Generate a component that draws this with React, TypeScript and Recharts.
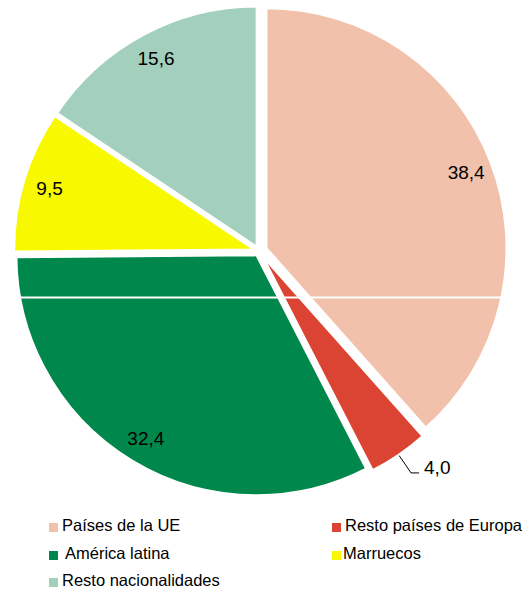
import React from "react";
import { PieChart, Pie, Cell, Sector, Legend } from "recharts";

const categories = [
  "Países de la UE",
  "Resto países de Europa",
  "América latina",
  "Marruecos",
  "Resto nacionalidades",
];
const values = [38.4, 4.0, 32.4, 9.5, 15.6];
const colors = ["#F2C1AB", "#DB4432", "#00874B", "#F8F800", "#A2D0BD"];
// how far each slice is pulled out of the pie, in px
const explode = [8, 7, 5, 5, 5];

const data = categories.map((name, i) => ({ name, value: values[i] }));

const RAD = Math.PI / 180;
const FONT = '"Liberation Sans", Arial, sans-serif';

const fmt = (v: number) => v.toFixed(1).replace(".", ",");

const shift = (index: number, midAngle: number) => {
  const d = explode[index] ?? 0;
  return { dx: d * Math.cos(-midAngle * RAD), dy: d * Math.sin(-midAngle * RAD) };
};

const renderSlice = (props: any) => {
  const { dx, dy } = shift(props.index ?? 0, props.midAngle);
  return <Sector {...props} cx={props.cx + dx} cy={props.cy + dy} />;
};

const renderLabel = (props: any) => {
  const { cx, cy, midAngle, outerRadius, index, value } = props;
  const { dx, dy } = shift(index, midAngle);
  const ox = cx + dx;
  const oy = cy + dy;
  const cos = Math.cos(-midAngle * RAD);
  const sin = Math.sin(-midAngle * RAD);
  if (index === 1) {
    const sx = ox + (outerRadius + 1) * cos;
    const sy = oy + (outerRadius + 1) * sin;
    const ex = ox + (outerRadius + 22) * cos;
    const ey = oy + (outerRadius + 22) * sin;
    return (
      <g>
        <polyline
          points={`${sx},${sy} ${ex},${ey} ${ex + 8},${ey}`}
          fill="none"
          stroke="#000"
          strokeWidth={1}
        />
        <text x={ex + 13} y={ey + 1} fontSize={19} fontFamily={FONT} fill="#000" textAnchor="start">
          {fmt(value)}
        </text>
      </g>
    );
  }
  const r = outerRadius * 0.89;
  return (
    <text
      x={ox + r * cos}
      y={oy + r * sin}
      fontSize={19}
      fontFamily={FONT}
      fill="#000"
      textAnchor="middle"
      dominantBaseline="central"
    >
      {fmt(value)}
    </text>
  );
};

const renderLegend = () => (
  <div style={{ position: "relative", width: 527, height: 82, fontFamily: FONT, fontSize: 16.5 }}>
    {categories.map((name, i) => {
      const col = i % 2;
      const row = Math.floor(i / 2);
      const left = col === 0 ? 49 : 332;
      const top = row * 27.5;
      return (
        <div key={name} style={{ position: "absolute", left, top, height: 27.5, lineHeight: "27.5px", whiteSpace: "nowrap", color: "#000" }}>
          <span style={{ position: "absolute", left: 0, top: 11, width: 9, height: 9, background: colors[i] }} />
          <span style={{ marginLeft: i === 2 ? 16 : i === 3 ? 11 : 13 }}>{name}</span>
        </div>
      );
    })}
  </div>
);

export default function App() {
  return (
    <div style={{ position: "absolute", left: 0, top: 0, width: 527, height: 593, background: "#fff" }}>
      <PieChart width={527} height={593} margin={{ top: 0, right: 0, bottom: 0, left: 0 }}>
        <Pie
          data={data}
          dataKey="value"
          nameKey="name"
          cx={259}
          cy={251}
          outerRadius={240}
          startAngle={90}
          endAngle={-270}
          stroke="#fff"
          strokeWidth={2}
          isAnimationActive={false}
          labelLine={false}
          label={renderLabel}
          shape={renderSlice}
          activeShape={renderSlice}
          inactiveShape={renderSlice}
        >
          {data.map((d, i) => (
            <Cell key={d.name} fill={colors[i]} />
          ))}
        </Pie>
        <Legend
          content={renderLegend}
          wrapperStyle={{ position: "absolute", left: 0, top: 512, width: 527 }}
        />
      </PieChart>
      <svg width={527} height={593} style={{ position: "absolute", left: 0, top: 0, pointerEvents: "none" }}>
        <line x1={10} x2={515} y1={297.5} y2={297.5} stroke="#fff" strokeWidth={2} />
      </svg>
    </div>
  );
}
